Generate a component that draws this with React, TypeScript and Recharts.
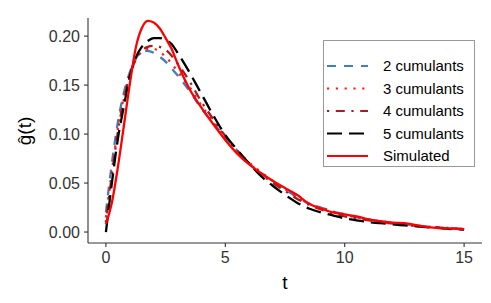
import { LineChart, Line, XAxis, YAxis } from 'recharts'

const tValues = [0, 0.25, 0.5, 0.75, 1, 1.25, 1.5, 1.75, 2, 2.25, 2.5, 2.75, 3, 3.5, 4, 4.5, 5, 5.5, 6, 6.5, 7, 7.5, 8, 8.5, 9, 9.5, 10, 10.5, 11, 11.5, 12, 12.5, 13, 13.5, 14, 14.5, 15]

const cum2 = [0.02, 0.07, 0.112, 0.142, 0.163, 0.177, 0.184, 0.185, 0.183, 0.179, 0.174, 0.167, 0.16, 0.144, 0.126, 0.111, 0.097, 0.083, 0.07, 0.06, 0.051, 0.043, 0.036, 0.029, 0.025, 0.021, 0.018, 0.015, 0.013, 0.011, 0.009, 0.008, 0.0065, 0.0055, 0.0045, 0.004, 0.003]
const cum3 = [0.015, 0.062, 0.106, 0.138, 0.161, 0.176, 0.184, 0.187, 0.187, 0.184, 0.179, 0.172, 0.164, 0.148, 0.129, 0.113, 0.097, 0.083, 0.071, 0.061, 0.052, 0.044, 0.036, 0.029, 0.025, 0.021, 0.018, 0.015, 0.013, 0.011, 0.0095, 0.008, 0.0065, 0.0055, 0.0045, 0.004, 0.003]
const cum4 = [0.01, 0.058, 0.102, 0.135, 0.16, 0.176, 0.185, 0.189, 0.19, 0.189, 0.186, 0.18, 0.172, 0.154, 0.133, 0.115, 0.098, 0.083, 0.07, 0.059, 0.05, 0.042, 0.034, 0.028, 0.023, 0.019, 0.016, 0.014, 0.012, 0.01, 0.0088, 0.0075, 0.0062, 0.0052, 0.0043, 0.0036, 0.003]
const cum5 = [0, 0.05, 0.095, 0.128, 0.159, 0.178, 0.189, 0.195, 0.198, 0.198, 0.196, 0.192, 0.183, 0.163, 0.141, 0.119, 0.099, 0.084, 0.07, 0.057, 0.047, 0.038, 0.03, 0.024, 0.02, 0.017, 0.014, 0.012, 0.01, 0.009, 0.0078, 0.0068, 0.0058, 0.0048, 0.004, 0.003, 0.0025]
const simulated = [0.008, 0.03, 0.066, 0.108, 0.151, 0.188, 0.208, 0.2156, 0.214, 0.208, 0.198, 0.187, 0.172, 0.146, 0.127, 0.11, 0.094, 0.08, 0.069, 0.06, 0.052, 0.045, 0.038, 0.029, 0.024, 0.02, 0.018, 0.016, 0.013, 0.011, 0.0095, 0.009, 0.007, 0.005, 0.004, 0.0035, 0.003]

const xTicks = [0, 5, 10, 15]
const yTicks = [0, 0.05, 0.1, 0.15, 0.2]

const FONT = 'Liberation Sans, Arial, sans-serif'

const series = [
  { key: 'cum2', name: '2 cumulants', color: '#3f7fbf', dash: '9 8' },
  { key: 'cum3', name: '3 cumulants', color: '#ff1a1a', dash: '2.2 6.6' },
  { key: 'cum4', name: '4 cumulants', color: '#a81c1c', dash: '2.2 6.6 9 6.6' },
  { key: 'cum5', name: '5 cumulants', color: '#000000', dash: '15 7' },
  { key: 'sim', name: 'Simulated', color: '#ff0000', dash: undefined as string | undefined },
]

const data = tValues.map((t, i) => ({
  t,
  cum2: cum2[i],
  cum3: cum3[i],
  cum4: cum4[i],
  cum5: cum5[i],
  sim: simulated[i],
}))

// legend drawn by hand, sits over the plot like the ggplot one
const LegendBox = () => (
  <svg width={152} height={127} style={{ position: 'absolute', left: 323, top: 40 }}>
    <rect x={0.5} y={0.5} width={151} height={126} fill="#fff" stroke="#999" strokeWidth={1} />
    {series.map((s, i) => {
      const y = 26 + i * 22.5
      return (
        <g key={s.key}>
          <line x1={4} x2={45} y1={y} y2={y} stroke={s.color} strokeWidth={2.2} strokeDasharray={s.dash} />
          <text x={60} y={y} dy="0.35em" fontSize={15} fill="#000" fontFamily={FONT}>
            {s.name}
          </text>
        </g>
      )
    })}
  </svg>
)

// rotated y title
const YTitle = () => (
  <svg width={40} height={303} style={{ position: 'absolute', left: 0, top: 0 }}>
    <text x={24} y={131} transform="rotate(-90 24 131)" textAnchor="middle" dominantBaseline="central" fontSize={19} fill="#000" fontFamily={FONT}>
      ĝ(t)
    </text>
  </svg>
)

const tickStyle = { fontSize: 16, fill: '#333', fontFamily: FONT }

export default function App() {
  return (
    <div style={{ position: 'absolute', left: 0, top: 0, width: 491, height: 303 }}>
      <LineChart width={491} height={303} data={data} margin={{ top: 18, right: 9, bottom: 0, left: 0 }}>
        <XAxis
          dataKey="t"
          type="number"
          domain={[-0.75, 15.75]}
          ticks={xTicks}
          allowDataOverflow
          height={60}
          stroke="#333"
          strokeWidth={1.1}
          tickSize={4}
          tick={tickStyle}
          tickMargin={5}
          label={{ value: 't', position: 'insideBottom', offset: 14, fontSize: 19, fill: '#000', fontFamily: FONT }}
        />
        <YAxis
          type="number"
          domain={[-0.0112, 0.2185]}
          ticks={yTicks}
          allowDataOverflow
          width={88}
          stroke="#333"
          strokeWidth={1.1}
          tickSize={4}
          tickMargin={4}
          tick={tickStyle}
          tickFormatter={(v: number) => v.toFixed(2)}
        />
        {series.map((s) => (
          <Line
            key={s.key}
            dataKey={s.key}
            name={s.name}
            type="monotone"
            stroke={s.color}
            strokeWidth={2.3}
            strokeDasharray={s.dash}
            dot={false}
            activeDot={false}
            isAnimationActive={false}
          />
        ))}
      </LineChart>
      <YTitle />
      <LegendBox />
    </div>
  )
}
